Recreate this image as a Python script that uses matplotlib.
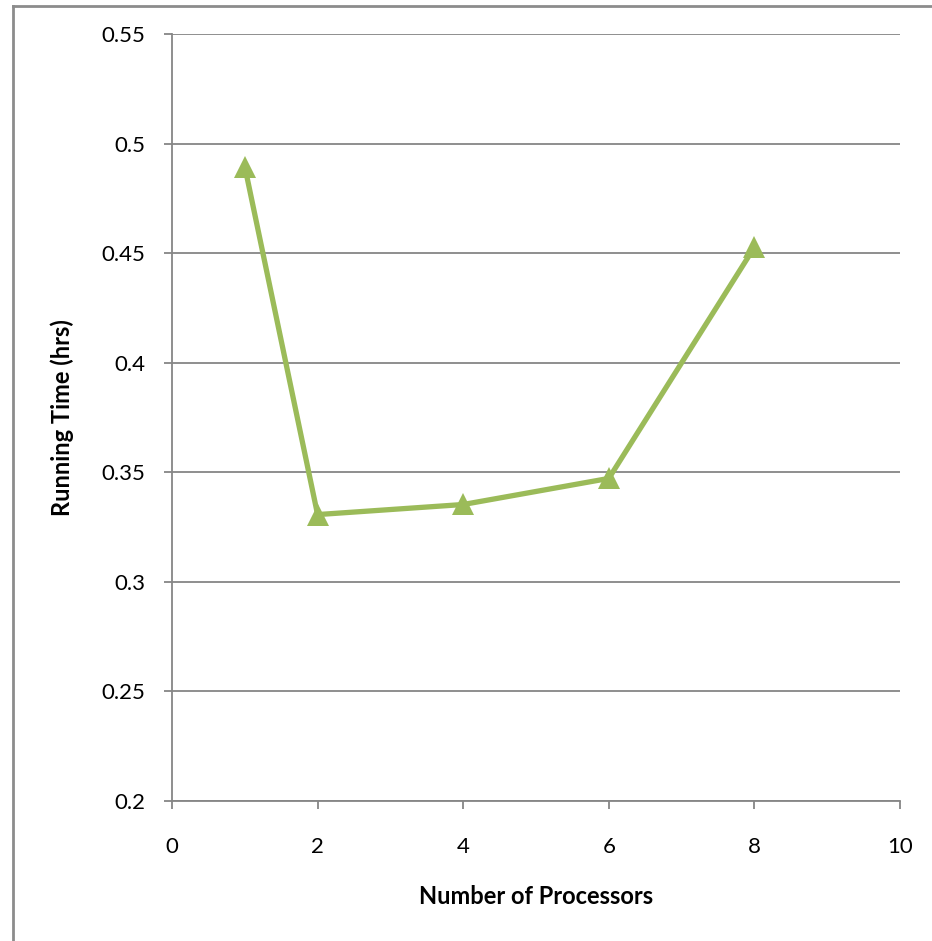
import matplotlib
matplotlib.use("Agg")
import matplotlib.pyplot as plt
from matplotlib.lines import Line2D

processors = [1, 2, 4, 6, 8]
running_time = [0.4895, 0.3307, 0.3353, 0.3472, 0.4527]

x_ticks = [0, 2, 4, 6, 8, 10]
y_ticks = [0.2, 0.25, 0.3, 0.35, 0.4, 0.45, 0.5, 0.55]
y_tick_labels = ["0.2", "0.25", "0.3", "0.35", "0.4", "0.45", "0.5", "0.55"]

green = "#9BBB59"
grid_gray = "#868686"

plt.rcParams['font.family'] = ['Lato', 'DejaVu Sans']

W, H = 932, 941
fig = plt.figure(figsize=(W / 100, H / 100), dpi=100)
ax = fig.add_axes([172 / W, 1 - 801 / H, (900 - 172) / W, (801 - 34) / H])

# outer chart frame, only left and top edges visible
fig.add_artist(Line2D([12.5 / W, 12.5 / W], [0, 1 - 5.5 / H], transform=fig.transFigure,
                      color="#8c8c8c", lw=2))
fig.add_artist(Line2D([12.5 / W, 1], [1 - 5.5 / H, 1 - 5.5 / H], transform=fig.transFigure,
                      color="#8c8c8c", lw=2))

ax.plot(processors, running_time, color=green, lw=3.8, marker="^", markersize=16,
        markeredgewidth=0, zorder=3, clip_on=False)

ax.set_xlim(0, 10)
ax.set_ylim(0.2, 0.55)
ax.set_xticks(x_ticks)
ax.set_yticks(y_ticks)
ax.set_yticklabels(y_tick_labels)
ax.grid(axis="y", color=grid_gray, lw=1.3)
ax.set_axisbelow(True)

for side in ["top", "right"]:
    ax.spines[side].set_visible(False)
for side in ["left", "bottom"]:
    ax.spines[side].set_color(grid_gray)
    ax.spines[side].set_linewidth(1.3)

ax.tick_params(axis="both", direction="out", length=6, width=1.3, color=grid_gray,
               labelsize=16, labelcolor="black")
ax.tick_params(axis="x", pad=20)
ax.tick_params(axis="y", pad=13)

ax.set_xlabel("Number of Processors", fontsize=17, fontweight="bold", labelpad=20)
ax.set_ylabel("Running Time (hrs)", fontsize=17, fontweight="bold", labelpad=20)

fig.savefig("out.png", dpi=100)
